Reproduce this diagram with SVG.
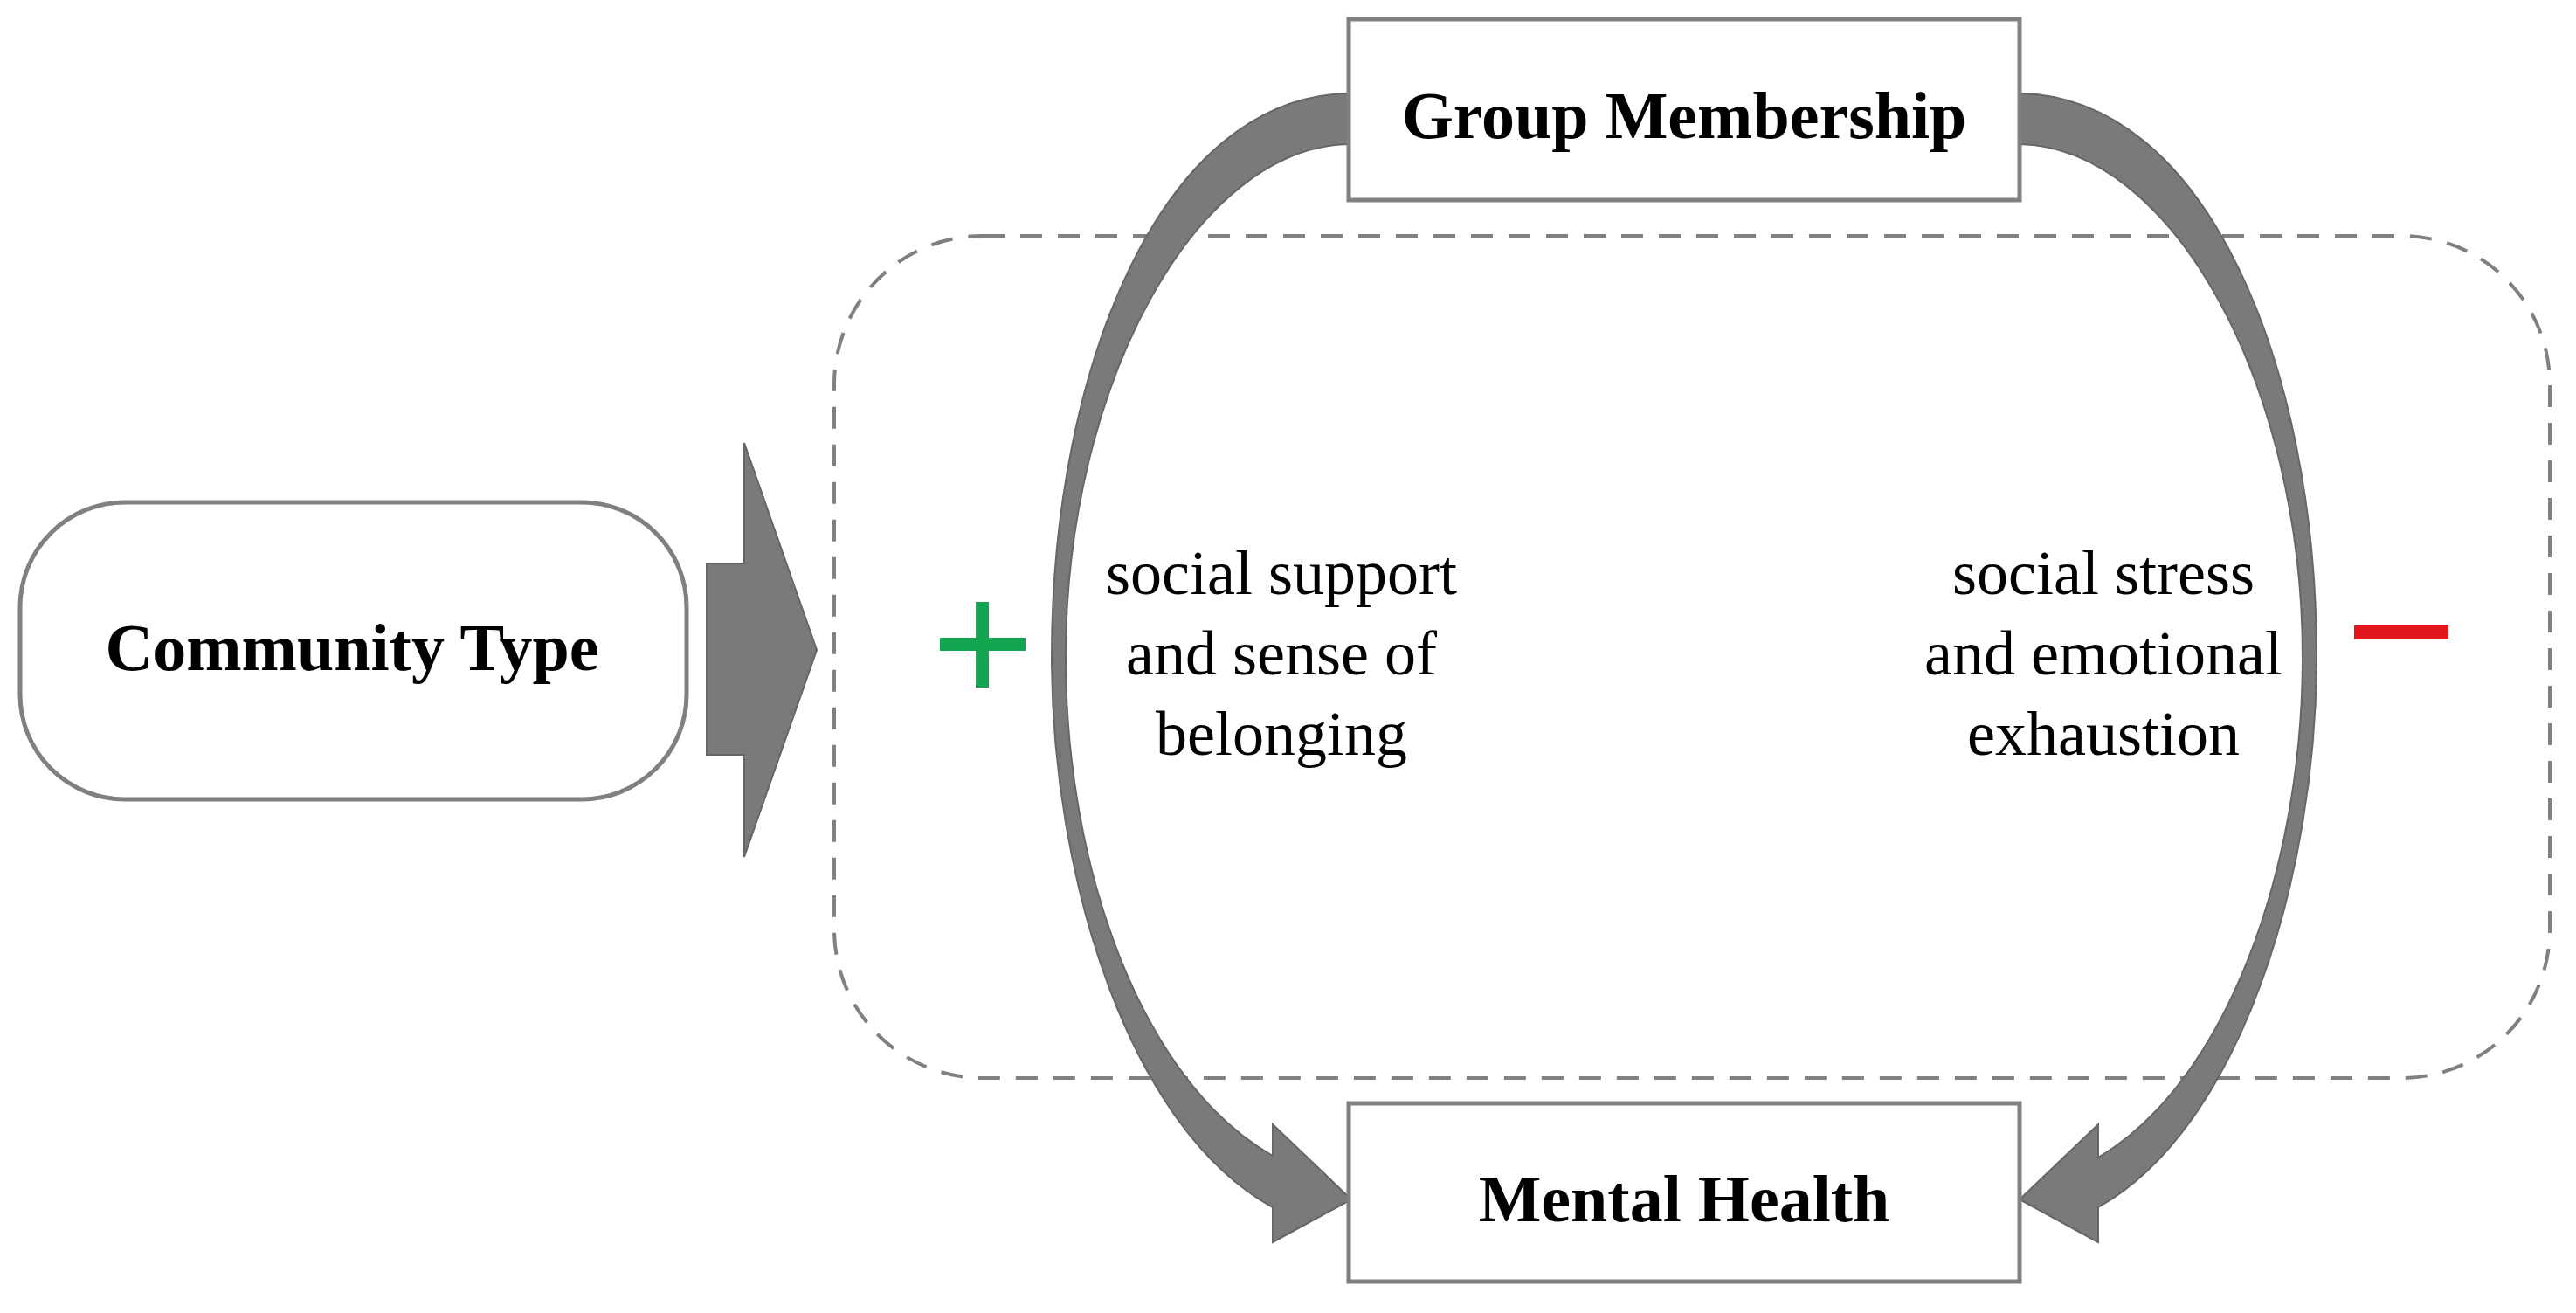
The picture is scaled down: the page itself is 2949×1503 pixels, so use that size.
<svg xmlns="http://www.w3.org/2000/svg" width="2949" height="1503" viewBox="0 0 2949 1503">
<style>
.box{fill:#fff;stroke:#808080;stroke-width:5}
.lbl{font-family:"Liberation Serif",serif;font-weight:bold;font-size:76px;fill:#000;text-anchor:middle}
.t{font-family:"Liberation Serif",serif;font-size:72px;fill:#000;text-anchor:middle}
.arr{fill:#7a7a7a;stroke:#666;stroke-width:2}
</style>
<rect width="2949" height="1503" fill="#fff"/>
<rect x="955" y="270" width="1964" height="964" rx="170" fill="none" stroke="#808080" stroke-width="4" stroke-dasharray="25 18"/>
<g id="connectors">
<path class="arr" d="M809,645 H852 V507 L935,744 L852,981 V864 H809 Z"/>
<path class="arr" d="M1544,107 C1330,110 1204,420 1204,752 C1204,1000 1290,1290 1457,1382 L1457,1422 L1547,1373 L1457,1287 L1457,1323 C1310,1240 1220,1000 1220,752 C1220,440 1370,168 1544,165 Z"/>
<path class="arr" d="M2312,107 C2526,110 2652,420 2652,752 C2652,1000 2566,1290 2402,1382 L2402,1422 L2312,1373 L2402,1287 L2402,1325 C2546,1240 2636,1000 2636,752 C2636,440 2486,168 2312,165 Z"/>
</g>
<g id="community">
<rect class="box" x="23" y="575" width="763" height="340" rx="120"/>
<text class="lbl" x="403" y="767">Community Type</text>
</g>
<g id="group">
<rect class="box" x="1544" y="22" width="768" height="207"/>
<text class="lbl" x="1928" y="158">Group Membership</text>
</g>
<g id="mental">
<rect class="box" x="1544" y="1263" width="768" height="204"/>
<text class="lbl" x="1928" y="1398">Mental Health</text>
</g>
<g id="labels">
<text class="t" x="1467" y="680">social support</text>
<text class="t" x="1467" y="772">and sense of</text>
<text class="t" x="1467" y="864">belonging</text>
<text class="t" x="2408" y="680">social stress</text>
<text class="t" x="2408" y="772">and emotional</text>
<text class="t" x="2408" y="864">exhaustion</text>
<rect x="1076" y="730" width="98" height="15" fill="#13a650"/>
<rect x="1117" y="689" width="15" height="98" fill="#13a650"/>
<rect x="2695" y="716" width="108" height="16" fill="#e3161c"/>
</g>
</svg>
